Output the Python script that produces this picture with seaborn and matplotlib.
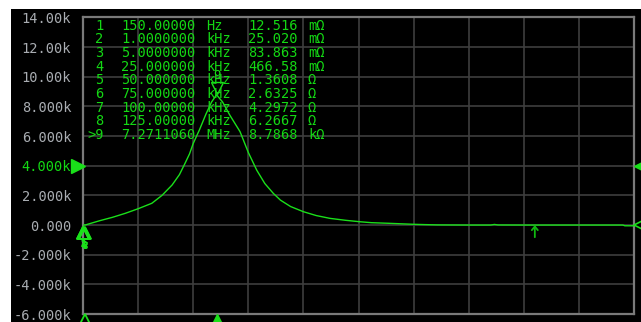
import matplotlib
matplotlib.use("Agg")
import matplotlib.pyplot as plt
import matplotlib.transforms as mtransforms
from matplotlib.patches import Rectangle
import numpy as np
import pandas as pd
import seaborn as sns

# Sweep trace: frequency (MHz) and impedance (ohm)
freq_mhz = [0.00015, 0.125, 0.9, 1.6, 2.3, 3.0, 3.75, 4.3, 4.85, 5.25, 5.55,
            5.8, 6.0, 6.35, 6.7, 7.0, 7.2711060, 7.6, 8.0, 8.55, 9.0, 9.46,
            9.9, 10.36, 10.75, 11.3, 12.0, 12.7, 13.45, 14.3, 15.1, 15.7,
            16.6, 17.4, 18.0, 18.6, 19.3, 20.0, 21.0, 22.2, 22.4, 22.6, 24.0,
            26.0, 28.0, 29.4, 29.5, 30.0]
impedance_ohm = [0.012516, 6.2667, 290, 520, 790, 1100, 1470, 2000, 2700, 3400,
                 4150, 4800, 5500, 6450, 7500, 8300, 8786.8, 8300, 7400, 6300,
                 4900, 3700, 2800, 2140, 1680, 1250, 900, 640, 450, 320, 220,
                 160, 120, 80, 50, 30, 10, 5, 0, 0, 40, 5, 0, 0, 0, 0, -50, -50]

# Marker table
marker_ids = ["1", "2", "3", "4", "5", "6", "7", "8", ">9"]
marker_freq_hz = [150.0, 1.0e3, 5.0e3, 25.0e3, 50.0e3, 75.0e3, 100.0e3, 125.0e3, 7.2711060e6]
marker_freq_text = ["150.00000", "1.0000000", "5.0000000", "25.000000", "50.000000",
                    "75.000000", "100.00000", "125.00000", "7.2711060"]
marker_freq_unit = ["Hz", "kHz", "kHz", "kHz", "kHz", "kHz", "kHz", "kHz", "MHz"]
marker_value_ohm = [0.012516, 0.025020, 0.083863, 0.46658, 1.3608, 2.6325, 4.2972, 6.2667, 8786.8]
marker_value_text = ["12.516", "25.020", "83.863", "466.58", "1.3608",
                     "2.6325", "4.2972", "6.2667", "8.7868"]
marker_value_unit = ["mΩ", "mΩ", "mΩ", "mΩ", "Ω", "Ω", "Ω", "Ω", "kΩ"]

# Axis scales
y_ticks = [-6000, -4000, -2000, 0, 2000, 4000, 6000, 8000, 10000, 12000, 14000]
y_tick_labels = ["-6.000k", "-4.000k", "-2.000k", "0.000", "2.000k", "4.000k",
                 "6.000k", "8.000k", "10.00k", "12.00k", "14.00k"]
reference_level = 4000
x_span_mhz = 30.0
x_divisions = 10
extra_marker_mhz = 24.6

GREEN = "#1ae01a"
TEXT_GREEN = "#14d814"
GRID = "#3e3e3e"
BORDER = "#7a7a7a"
LABEL = "#a9adb2"
MONO = "DejaVu Sans Mono"

sns.set_theme(style="dark")
plt.rcParams["font.family"] = [MONO, "DejaVu Sans"]

W, H = 641, 322
fig = plt.figure(figsize=(W / 100, H / 100), dpi=100, facecolor="white")
# black screen area behind the axes
fig.patches.append(Rectangle((11 / W, 0), 1 - 11 / W, 313 / H, transform=fig.transFigure,
                             facecolor="black", edgecolor="none", zorder=-10))

ax = fig.add_axes([83 / W, 8 / H, 551 / W, 296.5 / H])
ax.set_facecolor("black")

df = pd.DataFrame({"freq": freq_mhz, "z": impedance_ohm})
sns.lineplot(data=df, x="freq", y="z", ax=ax, color=GREEN, linewidth=1.0,
             estimator=None, zorder=5)

ax.set_xlim(0, x_span_mhz)
ax.set_ylim(y_ticks[0], y_ticks[-1])
ax.set_xticks(np.linspace(0, x_span_mhz, x_divisions + 1))
ax.set_xticklabels([])
ax.set_yticks(y_ticks)
ax.set_yticklabels(y_tick_labels)
ax.set_xlabel("")
ax.set_ylabel("")
ax.grid(True, color=GRID, linewidth=1.2)
ax.tick_params(axis="both", length=0)
ax.tick_params(axis="y", pad=8.5, labelsize=9.8, labelcolor=LABEL)
for lab, val in zip(ax.get_yticklabels(), y_ticks):
    lab.set_fontfamily(MONO)
    if val == reference_level:
        lab.set_color(TEXT_GREEN)
for side in ["left", "right", "top", "bottom"]:
    ax.spines[side].set_visible(True)
    ax.spines[side].set_color(BORDER)
    ax.spines[side].set_linewidth(1.6)

# Marker table
row0, row_step = 25.5, 13.7
for i in range(len(marker_ids)):
    yy = 1 - (row0 + i * row_step) / H
    kw = dict(color=TEXT_GREEN, fontsize=9.8, family=MONO, va="center")
    fig.text(103.5 / W, yy, marker_ids[i], ha="right", **kw)
    fig.text(121 / W, yy, marker_freq_text[i], ha="left", **kw)
    fig.text(206 / W, yy, marker_freq_unit[i], ha="left", **kw)
    fig.text(248 / W, yy, marker_value_text[i], ha="left", **kw)
    fig.text(308 / W, yy, marker_value_unit[i], ha="left", **kw)

# Marker glyphs on the trace (markers 1-8 sit on top of each other at the sweep start)
for i, (f, v) in enumerate(zip(marker_freq_hz, marker_value_ohm)):
    fx = f / 1e6
    if i < 8:
        off = mtransforms.offset_copy(ax.transData, fig=fig, x=0, y=-8, units="dots")
        ax.plot([fx], [v], marker="^", markersize=8, markerfacecolor="none",
                markeredgecolor=GREEN, markeredgewidth=1.2, transform=off,
                clip_on=False, zorder=6)
        ax.text(fx, v, marker_ids[i], transform=mtransforms.offset_copy(
            ax.transData, fig=fig, x=0, y=-19 - 0.4 * i, units="dots"),
            ha="center", va="center", fontsize=6.5, color=GREEN, family=MONO,
            fontweight="bold", zorder=6)
    else:
        off = mtransforms.offset_copy(ax.transData, fig=fig, x=0, y=7, units="dots")
        ax.plot([fx], [v], marker="v", markersize=8, markerfacecolor="none",
                markeredgecolor=GREEN, markeredgewidth=1.0, transform=off,
                clip_on=False, zorder=6)
        ax.text(fx, v, "9", transform=mtransforms.offset_copy(
            ax.transData, fig=fig, x=0, y=19, units="dots"),
            ha="center", va="center", fontsize=9, color=GREEN, family=MONO, zorder=6)

# Small upward arrow marker on the tail
ax.annotate("", xy=(extra_marker_mhz, 0), xytext=(extra_marker_mhz, -820),
            arrowprops=dict(arrowstyle="->,head_width=0.18,head_length=0.22",
                            color="#10b810", lw=1.3, shrinkA=0, shrinkB=0), zorder=6)

# Frequency position indicators on the bottom edge
bx = mtransforms.blended_transform_factory(ax.transData, ax.transAxes)
ax.plot([marker_freq_hz[0] / 1e6], [0], marker="^", markersize=11,
        markerfacecolor="none", markeredgecolor=GREEN, markeredgewidth=1.3,
        transform=mtransforms.offset_copy(bx, fig=fig, x=2, y=-8, units="dots"),
        clip_on=False, zorder=7)
ax.plot([marker_freq_hz[-1] / 1e6], [0], marker="^", markersize=11,
        color=GREEN, transform=mtransforms.offset_copy(bx, fig=fig, x=0, y=-8, units="dots"),
        clip_on=False, zorder=7)

# Reference level indicators on the left and right edges
lx = mtransforms.blended_transform_factory(ax.transAxes, ax.transData)
ax.plot([0], [reference_level], marker=">", markersize=10, color=GREEN,
        transform=mtransforms.offset_copy(lx, fig=fig, x=-5, y=0, units="dots"),
        clip_on=False, zorder=7)
ax.plot([1], [reference_level], marker="<", markersize=10, color=GREEN,
        transform=mtransforms.offset_copy(lx, fig=fig, x=7, y=0, units="dots"),
        clip_on=False, zorder=7)
ax.plot([1], [0], marker="<", markersize=8, markerfacecolor="none",
        markeredgecolor=GREEN, markeredgewidth=1.2,
        transform=mtransforms.offset_copy(lx, fig=fig, x=6, y=0, units="dots"),
        clip_on=False, zorder=7)

fig.savefig("out.png", dpi=100, facecolor="white")
